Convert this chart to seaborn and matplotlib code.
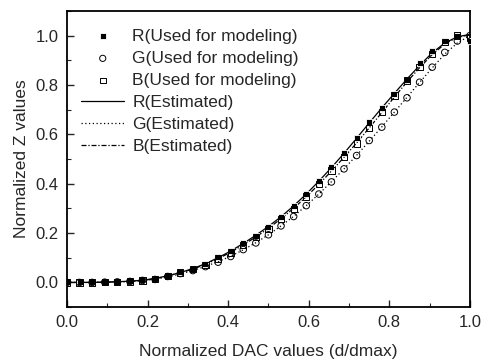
import numpy as np
import pandas as pd
import matplotlib
matplotlib.use("Agg")
import matplotlib.pyplot as plt
from matplotlib.ticker import MultipleLocator
import seaborn as sns

# Normalized DAC values, 33 steps (d/dmax)
dac = [i / 32 for i in range(33)]

# Measured Z values used for modeling
r_meas = [0.0, 0.0, 0.0, 0.001, 0.002, 0.004, 0.008, 0.015, 0.028, 0.042, 0.055,
          0.076, 0.102, 0.127, 0.159, 0.190, 0.224, 0.264, 0.309, 0.359, 0.409,
          0.467, 0.523, 0.585, 0.649, 0.707, 0.764, 0.820, 0.888, 0.939, 0.980,
          1.000, 0.980]
g_meas = [0.0, 0.0, 0.0, 0.001, 0.002, 0.004, 0.008, 0.012, 0.024, 0.036, 0.048,
          0.064, 0.082, 0.105, 0.133, 0.160, 0.193, 0.229, 0.267, 0.311, 0.358,
          0.407, 0.460, 0.514, 0.575, 0.629, 0.690, 0.748, 0.811, 0.872, 0.932,
          0.978, 1.000]
b_meas = [0.0, 0.0, 0.0, 0.001, 0.002, 0.004, 0.008, 0.014, 0.026, 0.040, 0.053,
          0.072, 0.097, 0.121, 0.152, 0.183, 0.217, 0.256, 0.299, 0.348, 0.398,
          0.453, 0.508, 0.563, 0.627, 0.690, 0.757, 0.818, 0.872, 0.926, 0.973,
          1.000, 0.990]

# Estimated (model) curves
r_est = [0.0, 0.0, 0.0, 0.001, 0.003, 0.005, 0.009, 0.016, 0.027, 0.040, 0.056,
         0.076, 0.100, 0.127, 0.158, 0.191, 0.227, 0.266, 0.310, 0.358, 0.410,
         0.465, 0.523, 0.584, 0.646, 0.707, 0.766, 0.824, 0.879, 0.930, 0.970,
         0.995, 1.005]
g_est = [0.0, 0.0, 0.0, 0.001, 0.002, 0.004, 0.007, 0.013, 0.022, 0.034, 0.048,
         0.065, 0.084, 0.106, 0.132, 0.161, 0.193, 0.229, 0.268, 0.311, 0.358,
         0.408, 0.460, 0.515, 0.572, 0.630, 0.690, 0.750, 0.810, 0.869, 0.925,
         0.970, 1.000]
b_est = [0.0, 0.0, 0.0, 0.001, 0.002, 0.004, 0.008, 0.015, 0.026, 0.039, 0.054,
         0.073, 0.096, 0.122, 0.152, 0.184, 0.219, 0.258, 0.300, 0.347, 0.397,
         0.451, 0.507, 0.565, 0.626, 0.688, 0.751, 0.812, 0.870, 0.923, 0.966,
         0.993, 1.003]

sns.set_style("ticks")
plt.rcParams["font.family"] = ["Liberation Sans", "DejaVu Sans"]
plt.rcParams["xtick.direction"] = "in"
plt.rcParams["ytick.direction"] = "in"

fig = plt.figure(figsize=(4.85, 3.63), dpi=100)
ax = fig.add_axes([0.138, 0.154, 0.831, 0.816])

sns.scatterplot(x=dac, y=r_meas, marker="s", s=20, color="black", linewidth=0.6,
                label="R(Used for modeling)", ax=ax, zorder=3)
sns.scatterplot(x=dac, y=g_meas, marker="o", s=22, facecolor="none", edgecolor="black",
                linewidth=0.7, label="G(Used for modeling)", ax=ax, zorder=3)
sns.scatterplot(x=dac, y=b_meas, marker="s", s=20, facecolor="none", edgecolor="black",
                linewidth=0.7, label="B(Used for modeling)", ax=ax, zorder=3)

sns.lineplot(x=dac, y=r_est, color="black", linewidth=0.9, linestyle="-",
             label="R(Estimated)", ax=ax)
sns.lineplot(x=dac, y=g_est, color="black", linewidth=0.9, linestyle=(0, (1, 2)),
             label="G(Estimated)", ax=ax)
sns.lineplot(x=dac, y=b_est, color="black", linewidth=0.9, linestyle=(0, (4, 1.5, 1, 1.5)),
             label="B(Estimated)", ax=ax)

ax.set_xlim(0, 1.0)
ax.set_ylim(-0.1, 1.1)
ax.xaxis.set_major_locator(MultipleLocator(0.2))
ax.xaxis.set_minor_locator(MultipleLocator(0.1))
ax.yaxis.set_major_locator(MultipleLocator(0.2))
ax.yaxis.set_minor_locator(MultipleLocator(0.1))
ax.set_xticks([0.0, 0.2, 0.4, 0.6, 0.8, 1.0])
ax.set_xticklabels(["0.0", "0.2", "0.4", "0.6", "0.8", "1.0"])
ax.set_yticks([0.0, 0.2, 0.4, 0.6, 0.8, 1.0])
ax.set_yticklabels(["0.0", "0.2", "0.4", "0.6", "0.8", "1.0"])
ax.tick_params(which="major", length=5, width=1.0, labelsize=12, pad=6)
ax.tick_params(which="minor", length=3, width=0.8)
for sp in ax.spines.values():
    sp.set_linewidth(1.3)
    sp.set_color("black")

ax.set_xlabel("Normalized DAC values (d/dmax)", fontsize=12.5, labelpad=10)
ax.set_ylabel("Normalized Z values", fontsize=12.5, labelpad=5)

ax.legend(loc="upper left", bbox_to_anchor=(0.035, 0.94), frameon=False, fontsize=12.5,
          borderaxespad=0, borderpad=0, handlelength=2.5, handletextpad=0.45,
          labelspacing=0.40, markerscale=0.95)

fig.savefig("out.png", dpi=100)
